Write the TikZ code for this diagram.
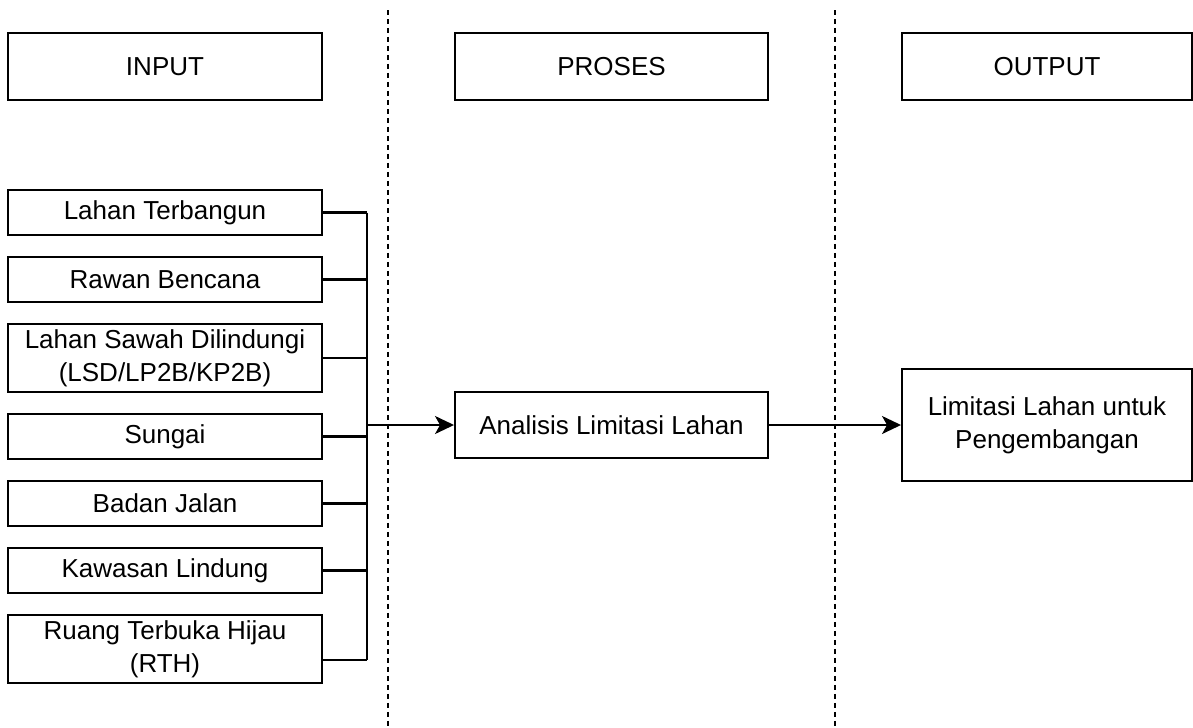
\documentclass[tikz,border=0pt]{standalone}
\usepackage{fontspec}
\setmainfont{Liberation Sans}
\usetikzlibrary{arrows.meta}
\usetikzlibrary{calc}

\tikzset{
  kotak/.style={draw, line width=1.15pt, align=center, inner sep=2pt, font=\fontsize{14.8}{18.8}\selectfont},
  garis/.style={line width=1.15pt},
  panah/.style={line width=1.15pt, -{Stealth[length=0.38cm, width=0.36cm, inset=0.1cm]}},
  batas/.style={line width=1pt, dash pattern=on 0.1cm off 0.08cm}
}

\begin{document}
\begin{tikzpicture}[x=0.02cm, y=-0.02cm]
\useasboundingbox (0,0) rectangle (1193,727);
% garis pemisah kolom
\draw[batas] (388,10) -- (388,727);
\draw[batas] (835,10) -- (835,727);
% judul kolom
\node[kotak, minimum width=6.28cm, minimum height=1.34cm] (hin) at (165,66.5) {INPUT};
\node[kotak, minimum width=6.26cm, minimum height=1.34cm] (hpr) at (611.5,66.5) {PROSES};
\node[kotak, minimum width=5.8cm, minimum height=1.34cm] (hout) at (1047,66.5) {OUTPUT};
% data masukan
\foreach \y/\h/\nm/\txt in {212.5/0.9/lt/Lahan Terbangun, 279.5/0.9/rb/Rawan Bencana, 358/1.36/lsd/{Lahan Sawah Dilindungi\\(LSD/LP2B/KP2B)}, 436.5/0.9/sg/Sungai, 503.5/0.9/bj/Badan Jalan, 570.5/0.9/kl/Kawasan Lindung, 649/1.36/rth/{Ruang Terbuka Hijau\\(RTH)}}{\node[kotak, minimum width=6.28cm, minimum height=\h cm] (\nm) at (165,\y) {\txt};};
\node[kotak, minimum width=6.26cm, minimum height=1.32cm] (ana) at (611.5,425) {Analisis Limitasi Lahan};
\node[kotak, minimum width=5.8cm, minimum height=2.24cm] (out) at (1047,425) {Limitasi Lahan untuk\\Pengembangan};
% penghubung
\coordinate (bus) at (367,425);
\coordinate (rthout) at ([yshift=-0.22cm]rth.east);
\foreach \nm in {lt,rb,lsd,sg,bj,kl}{\draw[garis] (\nm.east) -- (\nm.east -| bus);};
\draw[garis] (rthout) -- (rthout -| bus);
\draw[garis] (lt.east -| bus) -- (rthout -| bus);
\draw[panah] (bus) -- (ana);
\draw[panah] (ana) -- (out);
\end{tikzpicture}
\end{document}
